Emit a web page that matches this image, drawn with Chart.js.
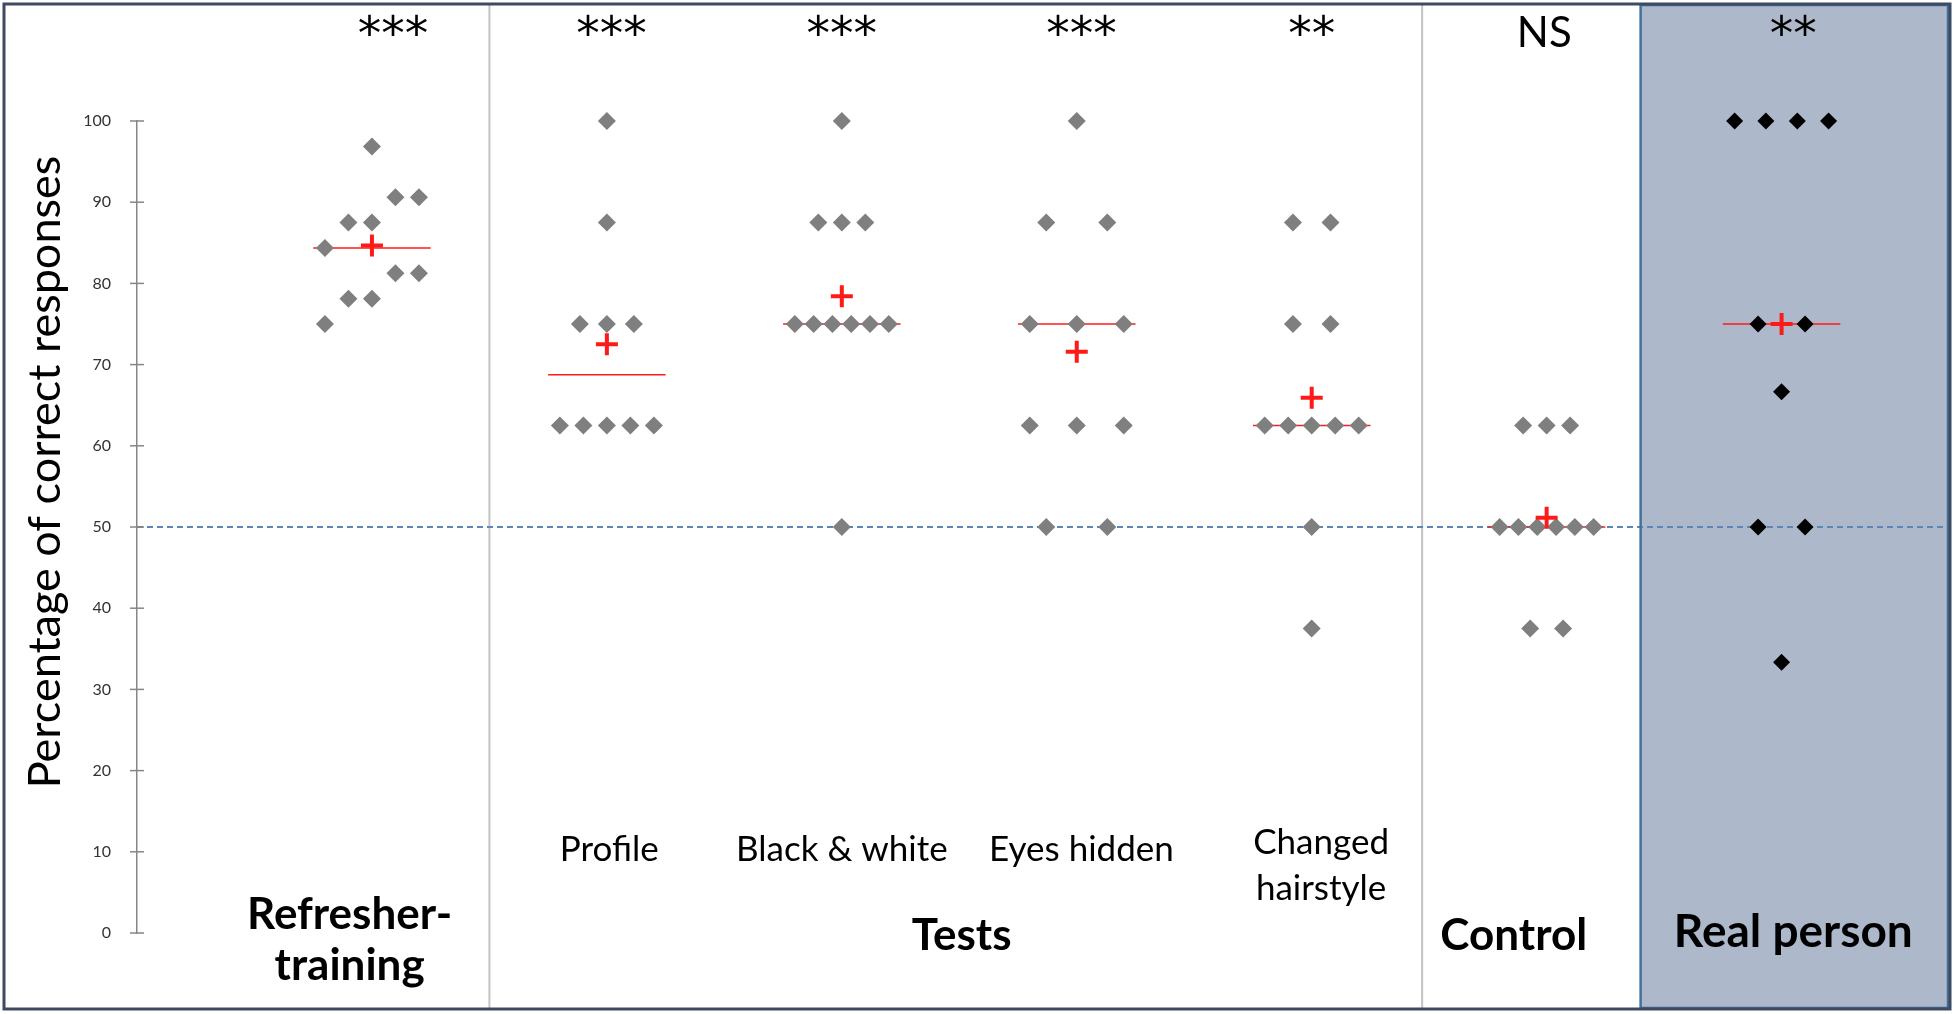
<!DOCTYPE html>
<html lang="en">
<head>
<meta charset="UTF-8">
<title>Percentage of correct responses</title>
<script src="https://cdn.jsdelivr.net/npm/chart.js"></script>
<style>
  html, body { margin: 0; padding: 0; background: #fff; overflow: hidden; }
  #wrap { width: 1954px; height: 1014px; position: relative; }
</style>
</head>
<body>
<div id="wrap"><canvas id="grafico"></canvas></div>

<script>
  // groups, left to right
  const groups = ['Refresher-training', 'Profile', 'Black & white', 'Eyes hidden', 'Changed hairstyle', 'Control', 'Real person'];
  const significance = ['***', '***', '***', '***', '**', 'NS', '**'];
  const yTicks = [0, 10, 20, 30, 40, 50, 60, 70, 80, 90, 100];
  const chanceLevel = 50;

  // scores (%) of each subject, and the column each diamond sits in
  const refresherValues = [96.875, 90.625, 90.625, 87.5, 87.5, 84.375, 81.25, 81.25, 78.125, 78.125, 75];
  const refresherCols   = [0, 1, 2, -1, 0, -2, 1, 2, -1, 0, -2];
  const profileValues = [100, 87.5, 75, 75, 75, 62.5, 62.5, 62.5, 62.5, 62.5];
  const profileCols   = [0, 0, -1.15, 0, 1.15, -2, -1, 0, 1, 2];
  const bwValues = [100, 87.5, 87.5, 87.5, 75, 75, 75, 75, 75, 75, 50];
  const bwCols   = [0, -1, 0, 1, -2, -1.2, -0.4, 0.4, 1.2, 2, 0];
  const eyesValues = [100, 87.5, 87.5, 75, 75, 75, 62.5, 62.5, 62.5, 50, 50];
  const eyesCols   = [0, -1.3, 1.3, -2, 0, 2, -2, 0, 2, -1.3, 1.3];
  const hairValues = [87.5, 87.5, 75, 75, 62.5, 62.5, 62.5, 62.5, 62.5, 50, 37.5];
  const hairCols   = [-0.8, 0.8, -0.8, 0.8, -2, -1, 0, 1, 2, 0, 0];
  const controlValues = [62.5, 62.5, 62.5, 50, 50, 50, 50, 50, 50, 37.5, 37.5];
  const controlCols   = [-1, 0, 1, -2, -1.2, -0.4, 0.4, 1.2, 2, -0.7, 0.7];
  const realValues = [100, 100, 100, 100, 75, 75, 66.667, 50, 50, 33.333];
  const realCols   = [-2, -0.67, 0.67, 2, -1, 1, 0, -1, 1, 0];

  const allValues = [refresherValues, profileValues, bwValues, eyesValues, hairValues, controlValues, realValues];
  const allCols = [refresherCols, profileCols, bwCols, eyesCols, hairCols, controlCols, realCols];

  const colStep = 0.1;      // width of one column, in group units
  const medianHalf = 0.25;  // half length of the median bar
  const xMin = -1, xMax = 6.67;

  function mean(a) { return a.reduce((s, v) => s + v, 0) / a.length; }
  function median(a) {
    const s = [...a].sort((p, q) => p - q);
    const m = Math.floor(s.length / 2);
    return s.length % 2 ? s[m] : (s[m - 1] + s[m]) / 2;
  }

  const grayPoints = [], blackPoints = [], medianLine = [], meanPoints = [];
  allValues.forEach((vals, g) => {
    vals.forEach((v, i) => {
      const p = { x: g + allCols[g][i] * colStep, y: v };
      if (g === 6) blackPoints.push(p); else grayPoints.push(p);
    });
    const md = median(vals);
    medianLine.push({ x: g - medianHalf, y: md }, { x: g + medianHalf, y: md }, { x: g + 0.5, y: null });
    meanPoints.push({ x: g, y: mean(vals) });
  });

  const frameRight = 1949;

  const panelPlugin = {
    id: 'panels',
    beforeDraw(chart) {
      const { ctx, width, height, scales: { x } } = chart;
      ctx.save();
      ctx.fillStyle = '#ffffff';
      ctx.fillRect(0, 0, width, height);
      const px = x.getPixelForValue(5.4);
      ctx.fillStyle = '#adb9ca';
      ctx.fillRect(px, 5, frameRight - px, 1004);
      ctx.strokeStyle = '#c3c3c3';
      ctx.lineWidth = 2;
      [0.5, 4.47].forEach(v => {
        const sx = x.getPixelForValue(v);
        ctx.beginPath(); ctx.moveTo(sx, 5); ctx.lineTo(sx, 1009); ctx.stroke();
      });
      ctx.restore();
    },
    afterDraw(chart) {
      const { ctx, chartArea, scales: { x, y } } = chart;
      ctx.save();
      // tick marks across the axis
      ctx.strokeStyle = '#868686';
      ctx.lineWidth = 1.5;
      yTicks.forEach(t => {
        const ty = y.getPixelForValue(t);
        ctx.beginPath(); ctx.moveTo(chartArea.left - 7, ty); ctx.lineTo(chartArea.left + 7, ty); ctx.stroke();
      });
      // panel and outer borders
      const px = x.getPixelForValue(5.4);
      ctx.strokeStyle = '#41719c';
      ctx.lineWidth = 2.5;
      ctx.strokeRect(px, 5, frameRight - 1 - px, 1003);
      ctx.strokeStyle = '#3d4b60';
      ctx.lineWidth = 3;
      ctx.strokeRect(4, 4, 1946, 1005);

      ctx.fillStyle = '#000';
      ctx.textAlign = 'center';
      ctx.textBaseline = 'alphabetic';
      // significance marks
      const starX = [0.09, 1.02, 2, 3.02, 4, 4.99, 6.05];
      significance.forEach((s, i) => {
        ctx.font = s === 'NS' ? '42px Lato' : '47px "DejaVu Sans"';
        ctx.fillText(s, x.getPixelForValue(starX[i]), s === 'NS' ? 47 : 49);
      });
      // test condition labels
      ctx.font = '35px Lato';
      ctx.fillText(groups[1], x.getPixelForValue(1.01), 861);
      ctx.fillText(groups[2], x.getPixelForValue(2.0), 861);
      ctx.fillText(groups[3], x.getPixelForValue(3.02), 861);
      ctx.fillText('Changed', x.getPixelForValue(4.04), 854);
      ctx.fillText('hairstyle', x.getPixelForValue(4.04), 900);
      // block labels
      ctx.font = 'bold 44px Lato';
      ctx.fillText('Refresher-', x.getPixelForValue(-0.095), 929);
      ctx.fillText('training', x.getPixelForValue(-0.095), 980);
      ctx.fillText('Tests', x.getPixelForValue(2.51), 950);
      ctx.fillText('Control', x.getPixelForValue(4.86), 950);
      ctx.font = 'bold 46px Lato';
      ctx.fillText(groups[6], x.getPixelForValue(6.05), 947);
      // y axis title
      ctx.translate(60, 472);
      ctx.rotate(-Math.PI / 2);
      ctx.font = '45px Lato';
      ctx.fillText('Percentage of correct responses', 0, 0);
      ctx.restore();
    }
  };

  const ctx = document.getElementById('grafico').getContext('2d');
  window.miGrafico = new Chart(ctx, {
    type: 'scatter',
    data: {
      datasets: [
        {
          label: 'chance',
          type: 'line',
          data: [{ x: xMin, y: chanceLevel }, { x: xMax + 0.04, y: chanceLevel }],
          borderColor: '#5b86b8',
          borderWidth: 2,
          borderDash: [6, 4],
          pointRadius: 0,
          clip: false,
          order: 10
        },
        {
          label: 'median',
          type: 'line',
          data: medianLine,
          borderColor: '#ff1a1a',
          borderWidth: 1.5,
          pointRadius: 0,
          spanGaps: false,
          order: 5
        },
        {
          label: 'subjects',
          data: grayPoints,
          pointStyle: 'rectRot',
          pointRadius: 9,
          pointBorderWidth: 0,
          backgroundColor: '#7f7f7f',
          borderColor: '#7f7f7f',
          clip: false,
          order: 2
        },
        {
          label: 'real person',
          data: blackPoints,
          pointStyle: 'rectRot',
          pointRadius: 8.5,
          pointBorderWidth: 0,
          backgroundColor: '#000000',
          borderColor: '#000000',
          clip: false,
          order: 2
        },
        {
          label: 'mean',
          data: meanPoints,
          pointStyle: 'cross',
          pointRadius: 11,
          pointBorderWidth: 4,
          borderColor: '#ff1a1a',
          backgroundColor: '#ff1a1a',
          clip: false,
          order: 1
        }
      ]
    },
    options: {
      responsive: true,
      maintainAspectRatio: false,
      animation: false,
      layout: { padding: { top: 121, bottom: 81, right: 6, left: 0 } },
      plugins: { legend: { display: false }, tooltip: { enabled: false } },
      scales: {
        x: { type: 'linear', display: false, min: xMin, max: xMax },
        y: {
          min: 0,
          max: 100,
          afterFit(scale) { scale.width = 137; },
          afterBuildTicks(scale) { scale.ticks = yTicks.map(v => ({ value: v })); },
          grid: { display: false },
          border: { display: true, color: '#868686', width: 1.5 },
          ticks: {
            padding: 18,
            color: '#333333',
            font: { family: 'Lato', size: 16 }
          }
        }
      }
    },
    plugins: [panelPlugin]
  });
</script>

</body>
</html>
